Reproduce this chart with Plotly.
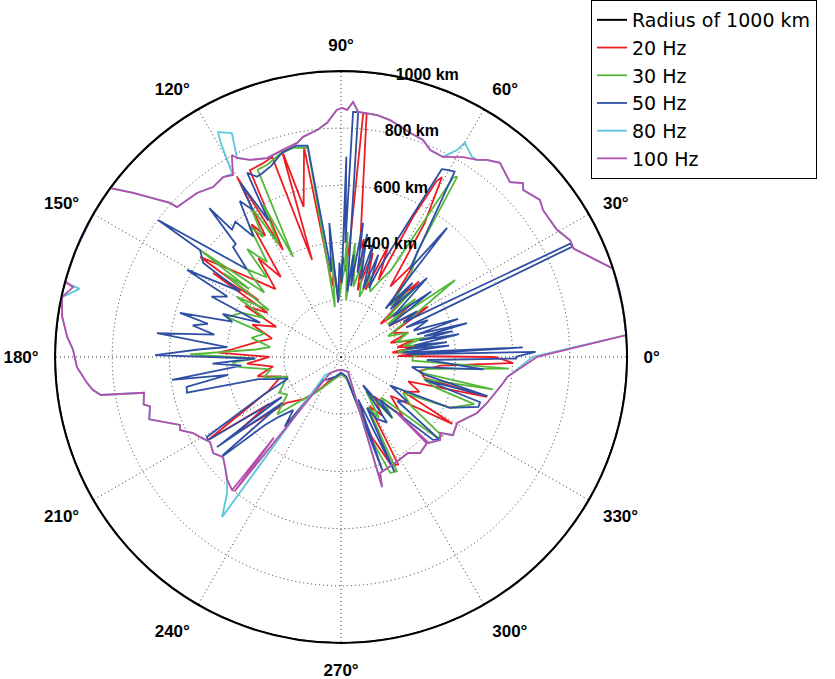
import plotly.graph_objects as go

# ---------------- data (theta in degrees, range in km) ----------------
RADIUS_KM = 1000
CIRCLE_THETA = list(range(0, 361, 2))

THETA_20HZ = [0, 1, 3, 5, 8, 10, 13, 16, 20, 25, 30, 33, 37, 40, 44, 47, 52, 55, 58, 60.7, 61.5,
              62.8, 64, 67, 70, 73, 76, 79, 80, 84, 84.8, 85.5, 87, 89, 92, 95, 97, 100, 104, 106,
              106.6, 109, 112, 116, 118.5, 120, 122, 124, 127, 130, 134, 138, 144.6, 145.5, 146.7,
              149, 152, 155, 160, 165, 170, 176.4, 178, 180, 184, 188, 193, 198, 205, 212, 213, 216,
              220, 228, 235, 245, 260, 272, 285, 291, 295, 298, 300, 305, 310, 316, 322, 329, 331,
              336, 340, 344.7, 346, 350, 355, 358, 360]
R_20HZ = [540, 200, 300, 180, 280, 200, 260, 180, 250, 200, 350, 200, 300, 180, 380, 250, 420, 300,
          550, 721, 700, 550, 300, 420, 250, 380, 240, 420, 380, 856, 856, 420, 300, 350, 200, 300,
          250, 745, 541, 755, 354, 740, 730, 727, 426, 727, 500, 560, 350, 450, 330, 400, 604, 350,
          535, 300, 380, 250, 330, 250, 300, 389, 430, 250, 330, 240, 300, 220, 280, 548, 300, 450,
          250, 200, 150, 90, 70, 60, 80, 300, 420, 425, 200, 250, 180, 300, 220, 454, 250, 300, 250,
          529, 300, 280, 350, 602, 540]

THETA_30HZ = [0, 3, 5, 8, 10, 13, 15, 20, 24, 30, 34, 35, 38, 40, 43, 46, 50, 54, 57.2, 58, 60, 63,
              66, 70, 73, 77, 80, 83, 85, 87, 88, 90, 92, 95, 97, 99, 103, 107, 111, 114, 115.6, 117,
              119, 121, 123, 125, 128, 131, 133, 137, 140, 142.8, 143.5, 144.5, 147, 150, 153, 156,
              160.7, 163, 168, 172, 175, 179, 181, 183, 185.7, 190, 195, 200, 210, 215, 222, 228, 235,
              245, 260, 272, 285, 290, 293, 296, 298, 302, 306, 310, 315, 320, 322, 325, 330, 335,
              340.5, 342, 345, 348, 349, 352, 356, 357, 360]
R_30HZ = [250, 300, 200, 330, 220, 300, 200, 250, 180, 300, 481, 200, 330, 200, 350, 250, 380, 450,
          750, 740, 350, 300, 250, 300, 220, 350, 250, 400, 200, 438, 300, 250, 200, 350, 176, 740,
          750, 740, 720, 717, 388, 600, 450, 620, 500, 560, 420, 500, 380, 450, 350, 619, 400, 506,
          300, 420, 300, 380, 422, 280, 320, 250, 300, 528, 300, 380, 355, 250, 280, 200, 250, 230,
          300, 200, 150, 100, 70, 60, 80, 300, 440, 445, 200, 250, 150, 280, 200, 440, 448, 300, 250,
          420, 494, 350, 300, 543, 280, 300, 588, 250, 250]

THETA_50HZ = [0, 1.5, 2.2, 3, 4, 6, 7, 8, 9, 11, 12, 13, 14, 15, 16.5, 18, 20, 23, 24.5, 25.5, 26.3,
              29, 31, 33, 36, 38, 42.6, 44, 46, 47.5, 50.6, 52, 58.5, 60.5, 61.8, 66.6, 68, 70, 72,
              74, 76, 78, 79, 80.7, 82, 83, 84.5, 86, 87.2, 87.8, 88.5, 89.5, 91, 93, 95, 96.5, 99,
              102, 106, 110, 113, 115, 117, 118, 120, 121, 123, 126, 128, 130.6, 131.5, 133, 134.5,
              137, 143.2, 142.8, 145.7, 147, 150.5, 152, 155, 157, 160, 162, 164.7, 166, 168, 170,
              172.6, 175, 177, 179.4, 181, 183, 185, 187.7, 189, 191, 193, 195, 198, 202, 206, 210.8,
              212, 214, 216, 218, 219.7, 220, 221.8, 224, 228, 231, 232, 240, 255, 270, 285, 290, 292,
              295, 297, 300, 305, 307, 308, 310, 312, 318, 320, 322, 326, 330, 335, 340, 342, 344.7,
              345, 348, 352, 355, 358, 359.5, 360]
R_50HZ = [610, 680, 230, 636, 215, 380, 230, 374, 260, 420, 280, 400, 300, 456, 277, 430, 270, 330,
          250, 895, 895, 250, 310, 200, 390, 230, 408, 240, 360, 230, 584, 390, 760, 752, 745, 343,
          260, 380, 250, 420, 280, 440, 300, 475, 250, 360, 230, 858, 858, 400, 700, 260, 330, 190,
          470, 300, 748, 755, 745, 712, 700, 695, 723, 540, 703, 600, 650, 520, 600, 586, 695, 540,
          539, 450, 799, 619, 583, 420, 618, 450, 500, 307, 440, 400, 584, 480, 530, 450, 649, 400,
          500, 650, 300, 450, 350, 596, 400, 550, 553, 300, 250, 200, 300, 546, 549, 250, 536, 260,
          536, 538, 357, 300, 250, 313, 102, 90, 70, 55, 70, 422, 160, 441, 200, 250, 280, 150, 125,
          278, 200, 433, 448, 250, 280, 200, 420, 511, 511, 305, 530, 300, 250, 500, 300, 614, 610]

THETA_80HZ = [0, 4.4, 10, 18, 25, 27, 30.5, 36, 38.3, 42.5, 43.7, 46, 50.7, 53.5, 55.4, 56.8, 60,
              60.7, 63, 66.7, 69.3, 72.9, 78.3, 81.5, 86, 87.3, 88.6, 89.8, 91, 93.4, 96, 99.8, 101.6,
              105.7, 110.4, 114.8, 117.6, 116, 118.7, 119.3, 120.7, 123.2, 127, 131.3, 137.6, 138,
              141.7, 143.8, 150, 158, 164.4, 164.9, 165.4, 167.9, 171.8, 175.8, 178.5, 182.2, 185.8,
              187.6, 189, 190.3, 193.5, 194.5, 198, 202.9, 204.4, 207.2, 209.6, 213, 216.9, 220.3,
              223.5, 227.2, 230, 233.4, 228.4, 257, 275, 295, 287.5, 288.6, 297, 304.9, 309.5, 315,
              320, 322.5, 325, 330.4, 337.6, 342.5, 350.9, 353.1, 360]
R_80HZ = [670, 1000, 1000, 1000, 897, 899, 876, 873, 886, 864, 880, 850, 877, 857, 837, 836, 865,
          830, 785, 788, 811, 820, 846, 855, 859, 893, 864, 871, 864, 820, 798, 781, 764, 752, 742,
          759, 785, 871, 896, 860, 745, 752, 744, 763, 777, 805, 926, 1000, 1000, 1000, 1000, 992,
          945, 998, 985, 960, 937, 924, 893, 875, 850, 700, 710, 690, 705, 611, 618, 582, 567, 546,
          559, 541, 559, 586, 620, 697, 84, 47, 45, 58, 477, 428, 416, 409, 435, 425, 452, 436, 477,
          467, 514, 535, 574, 585, 670]

THETA_100HZ = [0, 4.4, 10, 18, 25, 27, 30.5, 36, 38.3, 42.5, 43.7, 46, 50.7, 53.5, 55.4, 58.6, 63,
               66.7, 69.3, 72.9, 78.3, 81.5, 86, 87.3, 88.6, 89.8, 91, 93.4, 96, 99.8, 101.6, 105.7,
               110.4, 114.8, 117.6, 118.4, 120.7, 123.2, 127, 131.3, 137.6, 138, 141.7, 143.8, 150,
               158, 164.4, 164.9, 165.4, 167.9, 171.8, 175.8, 178.5, 182.2, 185.8, 187.6, 189, 190.3,
               193.5, 194.5, 198, 202.9, 204.4, 207.2, 209.6, 213, 216.9, 220.3, 223.5, 227.2, 230.7,
               230.2, 231.6, 235.5, 257, 275, 295, 287.5, 288.6, 297, 304.9, 309.5, 314.8, 315, 315.6,
               320, 322.5, 325, 330.4, 337.6, 342.5, 350.9, 353.1, 360]
R_100HZ = [685, 1000, 1000, 1000, 897, 899, 876, 873, 886, 864, 880, 850, 877, 857, 837, 819, 785,
           788, 811, 820, 846, 855, 859, 893, 864, 871, 864, 820, 798, 781, 764, 752, 742, 759, 785,
           803, 740, 752, 744, 763, 777, 805, 926, 1000, 1000, 1000, 1000, 992, 968, 998, 985, 960,
           937, 924, 893, 875, 850, 700, 710, 690, 705, 611, 618, 582, 567, 546, 559, 541, 559, 586,
           601, 367, 600, 68, 47, 45, 58, 477, 428, 416, 409, 435, 425, 277, 430, 452, 436, 477, 467,
           514, 535, 574, 585, 685]

RING_LABEL_R = [400, 600, 800, 1000]
RING_LABELS = ["400 km", "600 km", "800 km", "1000 km"]
ANGLE_TICKS = list(range(0, 360, 30))
ANGLE_LABELS = [f"{a}°" for a in ANGLE_TICKS]

SERIES = [
    ("20 Hz", THETA_20HZ, R_20HZ, "#ee1c24"),
    ("30 Hz", THETA_30HZ, R_30HZ, "#55b83a"),
    ("50 Hz", THETA_50HZ, R_50HZ, "#2e4fa3"),
    ("80 Hz", THETA_80HZ, R_80HZ, "#5cc6da"),
    ("100 Hz", THETA_100HZ, R_100HZ, "#b450ac"),
]

FONT = "Liberation Sans, Arial, Helvetica, sans-serif"
LEGEND_FONT = "DejaVu Sans, Liberation Sans, Arial, sans-serif"

fig = go.Figure()
fig.add_trace(go.Scatterpolar(
    theta=CIRCLE_THETA, r=[RADIUS_KM] * len(CIRCLE_THETA), mode="lines",
    name="Radius of 1000 km", line=dict(color="black", width=2), cliponaxis=False))
for name, th, rr, col in SERIES:
    fig.add_trace(go.Scatterpolar(theta=th, r=rr, mode="lines", name=name,
                                  line=dict(color=col, width=1.8), cliponaxis=False))
fig.add_trace(go.Scatterpolar(
    theta=[79] * len(RING_LABEL_R), r=RING_LABEL_R, mode="text", text=RING_LABELS,
    textposition="middle right", showlegend=False, cliponaxis=False, hoverinfo="skip",
    textfont=dict(family=FONT, size=16, color="black", weight="bold")))

fig.update_layout(
    width=835, height=679,
    margin=dict(l=0, r=0, t=0, b=0),
    paper_bgcolor="white",
    polar=dict(
        domain=dict(x=[0.0659, 0.751], y=[0.053, 0.8955]),
        bgcolor="white",
        angularaxis=dict(
            rotation=0, direction="counterclockwise",
            tickmode="array", tickvals=ANGLE_TICKS, ticktext=ANGLE_LABELS,
            showgrid=True, gridcolor="#333333", griddash="1px,3px", gridwidth=1,
            showline=True, linecolor="black", linewidth=2,
            ticks="outside", ticklen=12, tickcolor="rgba(0,0,0,0)",
            tickfont=dict(family=FONT, size=17, color="black", weight="bold"),
        ),
        radialaxis=dict(
            range=[0, 1000], tickmode="array", tickvals=[200, 400, 600, 800],
            showticklabels=False, ticks="", showline=False,
            showgrid=True, gridcolor="#333333", griddash="1px,3px", gridwidth=1, angle=80,
        ),
    ),
    legend=dict(
        x=0.7078, y=1, xanchor="left", yanchor="top",
        bordercolor="black", borderwidth=1, bgcolor="white",
        font=dict(family=LEGEND_FONT, size=19, color="black"),
        tracegroupgap=0,
    ),
)

fig.write_html("out.html")
